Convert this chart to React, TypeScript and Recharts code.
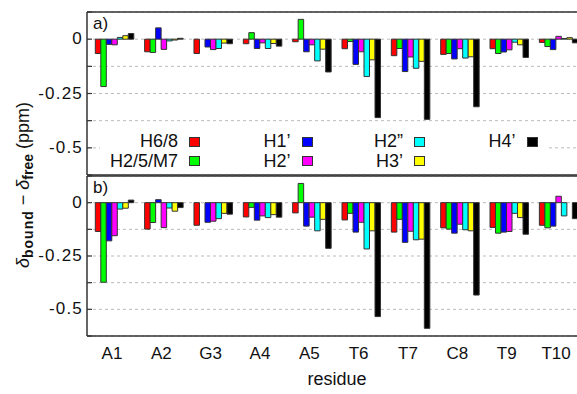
import React from "react";
import { BarChart, Bar, XAxis, YAxis, CartesianGrid, Legend } from "recharts";

const FONT = '"Liberation Sans", Arial, Helvetica, sans-serif';

const residues = ["A1", "A2", "G3", "A4", "A5", "T6", "T7", "C8", "T9", "T10"];
const seriesKeys = ["h68", "h25m7", "h1p", "h2p", "h2pp", "h3p", "h4p"];
const seriesNames = ["H6/8", "H2/5/M7", "H1\u2019", "H2\u2019", "H2\u201d", "H3\u2019", "H4\u2019"];
const seriesColors = ["#ff0000", "#00ff00", "#0000ff", "#ff00ff", "#00ffff", "#ffff00", "#000000"];

// panel a)
const aH68 = [-0.066, -0.058, -0.066, -0.021, -0.012, -0.044, -0.076, -0.07, -0.044, -0.015];
const aH25M7 = [-0.218, -0.061, 0, 0.03, 0.091, -0.011, -0.043, -0.066, -0.066, -0.034];
const aH1p = [-0.024, 0.052, -0.036, -0.043, -0.058, -0.116, -0.149, -0.091, -0.059, -0.048];
const aH2p = [-0.026, -0.047, -0.048, -0.017, -0.026, -0.058, -0.082, -0.044, -0.049, 0.013];
const aH2pp = [0.008, -0.008, -0.043, -0.043, -0.1, -0.172, -0.134, -0.087, -0.014, 0.003];
const aH3p = [0.016, -0.004, -0.018, -0.02, -0.046, -0.095, -0.102, -0.081, -0.026, 0.007];
const aH4p = [0.026, 0.004, -0.021, -0.032, -0.151, -0.361, -0.369, -0.311, -0.084, -0.017];

// panel b)
const bH68 = [-0.135, -0.124, -0.106, -0.067, -0.048, -0.081, -0.138, -0.118, -0.116, -0.106];
const bH25M7 = [-0.373, -0.093, 0, -0.022, 0.09, -0.05, -0.078, -0.124, -0.143, -0.118];
const bH1p = [-0.179, 0.014, -0.092, -0.082, -0.11, -0.138, -0.186, -0.143, -0.138, -0.11];
const bH2p = [-0.155, -0.117, -0.087, -0.062, -0.068, -0.092, -0.134, -0.101, -0.135, 0.03];
const bH2pp = [-0.03, -0.025, -0.075, -0.07, -0.132, -0.217, -0.174, -0.127, -0.05, -0.062];
const bH3p = [-0.026, -0.04, -0.05, -0.056, -0.078, -0.132, -0.171, -0.132, -0.07, 0];
const bH4p = [0.012, -0.023, -0.054, -0.068, -0.214, -0.534, -0.589, -0.433, -0.148, -0.075];

const yTicks = [-0.625, -0.5, -0.375, -0.25, -0.125, 0, 0.125];
const yLabeled = [0, -0.25, -0.5];

const makeRows = (cols: number[][]) =>
  residues.map((residue, i) => {
    const row: Record<string, string | number> = { residue };
    seriesKeys.forEach((k, j) => (row[k] = cols[j][i]));
    return row;
  });

const rowsA = makeRows([aH68, aH25M7, aH1p, aH2p, aH2pp, aH3p, aH4p]);
const rowsB = makeRows([bH68, bH25M7, bH1p, bH2p, bH2pp, bH3p, bH4p]);

const LINE = "#333";

const YTick = (props: any) => {
  const { x, y, payload } = props;
  const v = Number(payload.value);
  const lab = yLabeled.find((l) => Math.abs(l - v) < 1e-9);
  return (
    <g>
      <line x1={x + 5} x2={x + 10} y1={y} y2={y} stroke={LINE} strokeWidth={1.2} />
      {lab !== undefined && (
        <text
          x={x + 1}
          y={y}
          dy="0.3em"
          textAnchor="end"
          fontSize={17}
          letterSpacing={1.2}
          fill="#111"
          fontFamily={FONT}
        >
          {String(lab)}
        </text>
      )}
    </g>
  );
};

const LegendContent = (props: any) => {
  const items = [...(props.payload ?? [])].sort(
    (p: any, q: any) => seriesNames.indexOf(p.value) - seriesNames.indexOf(q.value)
  );
  return (
    <div
      style={{
        display: "grid",
        gridAutoFlow: "column",
        gridTemplateRows: "19.4px 19.4px",
        gridTemplateColumns: "100px 112.5px 112.5px 112.5px",
        paddingTop: 8,
        height: 50,
        boxSizing: "border-box",
        background: "#fff",
        fontFamily: FONT,
        fontSize: 18,
        color: "#111",
      }}
    >
      {items.map((it: any) => {
        const idx = seriesNames.indexOf(it.value);
        return (
          <div
            key={it.value}
            style={{
              display: "flex",
              justifyContent: "flex-end",
              alignItems: "center",
              gap: 11,
              lineHeight: "19px",
            }}
          >
            <span>{it.value}</span>
            <span
              style={{
                width: 11,
                height: 10,
                boxSizing: "border-box",
                border: "1px solid #333",
                background: seriesColors[idx],
              }}
            />
          </div>
        );
      })}
    </div>
  );
};

function Panel({
  rows,
  tag,
  plotHeight,
  marginTop,
  bottom,
}: {
  rows: Record<string, string | number>[];
  tag: string;
  plotHeight: number;
  marginTop: number;
  bottom: boolean;
}) {
  const xHeight = bottom ? 55 : 1;
  return (
    <BarChart
      width={590}
      height={marginTop + plotHeight + xHeight + 2}
      data={rows}
      margin={{ top: marginTop, right: 2, bottom: 2, left: 0 }}
      barGap={0}
      barSize={5.5}
    >
      <CartesianGrid vertical={false} stroke="#bbb" strokeDasharray="3 3" />
      <XAxis
        dataKey="residue"
        height={xHeight}
        padding={{ left: 3.3, right: 3.3 }}
        stroke={LINE}
        strokeWidth={1.5}
        axisLine={true}
        tickLine={false}
        tickSize={0}
        tickMargin={11}
        interval={0}
        tick={bottom ? { fontSize: 17, fill: "#111", dx: -3, fontFamily: FONT, strokeWidth: 0 } : false}
        label={
          bottom
            ? {
                value: "residue",
                position: "insideBottom",
                offset: 6,
                fontSize: 18,
                fill: "#111",
                fontFamily: FONT,
              }
            : undefined
        }
      />
      <XAxis
        xAxisId="top"
        orientation="top"
        dataKey="residue"
        height={1}
        stroke={LINE}
        strokeWidth={1.5}
        axisLine={true}
        tickLine={false}
        tick={false}
      />
      <YAxis
        width={87}
        domain={[-0.625, 0.125]}
        ticks={yTicks}
        interval={0}
        stroke={LINE}
        strokeWidth={1.5}
        axisLine={true}
        tickLine={false}
        tickSize={0}
        tickMargin={5}
        tick={<YTick />}
        label={{
          content: (p: any) => (
            <text
              x={p.viewBox.x + p.viewBox.width + 6}
              y={p.viewBox.y + 17}
              fontSize={17}
              fill="#111"
              fontFamily={FONT}
            >
              {tag}
            </text>
          ),
        }}
      />
      <YAxis
        yAxisId="right"
        orientation="right"
        width={1}
        stroke={LINE}
        strokeWidth={1.5}
        axisLine={true}
        tickLine={false}
        tick={false}
      />
      {!bottom && (
        <Legend
          layout="vertical"
          align="center"
          verticalAlign="middle"
          content={<LegendContent />}
          wrapperStyle={{ left: 100, top: 125, width: 448, height: 50, margin: 0, padding: 0 }}
        />
      )}
      {seriesKeys.map((k, i) => (
        <Bar
          key={k}
          dataKey={k}
          name={seriesNames[i]}
          fill={seriesColors[i]}
          stroke={LINE}
          strokeWidth={1}
          isAnimationActive={false}
        />
      ))}
    </BarChart>
  );
}

export default function App() {
  return (
    <div
      style={{
        position: "fixed",
        left: 0,
        top: 0,
        width: 577,
        height: 394,
        overflow: "hidden",
        background: "#fff",
      }}
    >
      <svg width={60} height={394} style={{ position: "absolute", left: 0, top: 0 }}>
        <text
          x={29}
          y={185}
          transform="rotate(-90 29 185)"
          textAnchor="middle"
          fontSize={18}
          fill="#111"
          fontFamily={FONT}
        >
          <tspan fontStyle="italic">δ</tspan>
          <tspan dy={4} fontSize={14} fontWeight="bold" letterSpacing={1}>
            bound
          </tspan>
          <tspan dy={-4}>{" \u2212 "}</tspan>
          <tspan fontStyle="italic">δ</tspan>
          <tspan dy={4} fontSize={14} fontWeight="bold">
            free
          </tspan>
          <tspan dy={-4}>{" (ppm)"}</tspan>
        </text>
      </svg>
      <div style={{ position: "absolute", left: 0, top: -1 }}>
        <Panel rows={rowsA} tag="a)" plotHeight={164} marginTop={12} bottom={false} />
      </div>
      <div style={{ position: "absolute", left: 0, top: 169 }}>
        <Panel rows={rowsB} tag="b)" plotHeight={161} marginTop={6} bottom={true} />
      </div>
    </div>
  );
}
